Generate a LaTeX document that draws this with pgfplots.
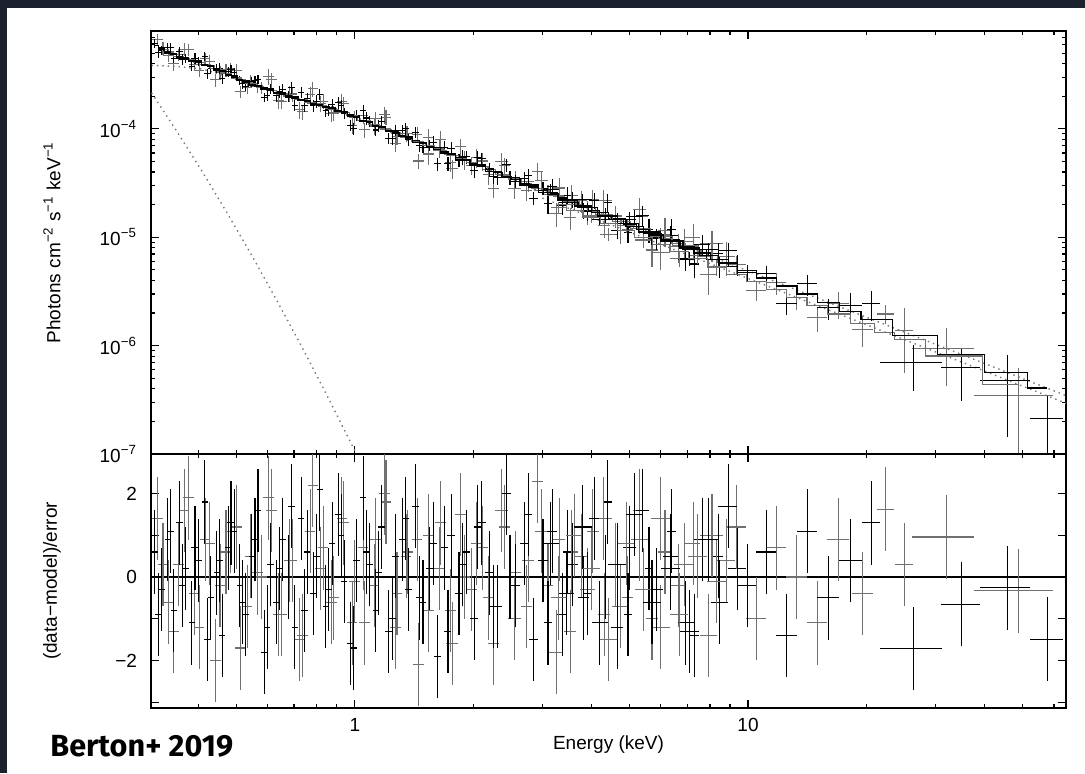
\documentclass[border=0pt]{standalone}
\usepackage{pgfplots}
\pgfplotsset{compat=1.18}
\usepackage{pgfplotstable}
\usepackage{fontspec}
\setmainfont{Liberation Sans}
\newfontfamily\bertonfont{Fira Sans}
\definecolor{bgdark}{RGB}{27,34,46}
\definecolor{dgray}{RGB}{112,112,112}
\definecolor{dotgray}{RGB}{120,120,120}

% XMM pn (black)
\pgfplotstableread{
E dE F rel M r
0.310 0.006 6.18e-4 0.10 5.83e-4 0.6
0.322 0.006 5.30e-4 0.10 5.46e-4 -0.3
0.334 0.006 5.59e-4 0.10 5.13e-4 0.9
0.346 0.006 4.47e-4 0.10 4.86e-4 -0.8
0.358 0.0065 5.20e-4 0.10 4.60e-4 1.3
0.371 0.007 4.50e-4 0.10 4.41e-4 0.2
0.385 0.0075 3.78e-4 0.10 4.25e-4 -1.1
0.400 0.0075 4.23e-4 0.10 4.07e-4 0.4
0.415 0.0075 4.65e-4 0.10 3.94e-4 1.8
0.430 0.0075 3.61e-4 0.10 3.80e-4 -0.5
0.445 0.0075 3.61e-4 0.10 3.57e-4 0.1
0.460 0.008 2.89e-4 0.10 3.36e-4 -1.4
0.476 0.0085 3.38e-4 0.10 3.16e-4 0.7
0.493 0.0085 3.34e-4 0.10 3.01e-4 1.1
0.510 0.009 2.80e-4 0.10 2.86e-4 -0.2
0.528 0.0095 2.47e-4 0.10 2.71e-4 -0.9
0.547 0.010 2.71e-4 0.10 2.58e-4 0.5
0.567 0.0105 2.88e-4 0.10 2.48e-4 1.6
0.588 0.011 1.95e-4 0.10 2.38e-4 -1.8
0.610 0.011 2.35e-4 0.10 2.28e-4 0.3
0.632 0.0115 2.02e-4 0.12 2.18e-4 -0.6
0.655 0.012 2.32e-4 0.12 2.09e-4 0.9
0.679 0.0125 2.01e-4 0.12 2.01e-4 0.0
0.704 0.013 1.65e-4 0.12 1.93e-4 -1.2
0.730 0.0135 2.17e-4 0.12 1.86e-4 1.4
0.757 0.014 1.92e-4 0.12 1.79e-4 0.6
0.785 0.0145 1.64e-4 0.12 1.72e-4 -0.4
0.814 0.015 2.08e-4 0.12 1.66e-4 2.1
0.844 0.0155 1.47e-4 0.12 1.60e-4 -0.7
0.875 0.016 1.69e-4 0.12 1.54e-4 0.8
0.907 0.0165 1.75e-4 0.12 1.48e-4 1.5
0.940 0.0175 1.39e-4 0.12 1.41e-4 -0.1
0.975 0.0175 1.08e-4 0.12 1.34e-4 -1.6
1.01 0.02 1.33e-4 0.12 1.27e-4 0.4
1.05 0.02 1.47e-4 0.12 1.20e-4 1.9
1.09 0.02 1.18e-4 0.12 1.14e-4 0.3
1.13 0.02 9.76e-5 0.12 1.08e-4 -0.8
1.17 0.025 1.18e-4 0.12 1.03e-4 1.2
1.22 0.025 8.20e-5 0.12 9.71e-5 -1.3
1.27 0.025 9.73e-5 0.12 9.18e-5 0.5
1.32 0.025 9.63e-5 0.12 8.69e-5 0.9
1.37 0.03 7.94e-5 0.12 8.24e-5 -0.3
1.43 0.03 9.33e-5 0.12 7.75e-5 1.7
1.49 0.03 6.78e-5 0.12 7.31e-5 -0.6
1.55 0.035 7.09e-5 0.12 6.92e-5 0.2
1.62 0.035 4.76e-5 0.14 6.49e-5 -1.9
1.69 0.035 6.71e-5 0.14 6.11e-5 0.7
1.76 0.04 6.58e-5 0.14 5.77e-5 1.0
1.84 0.04 5.12e-5 0.14 5.42e-5 -0.4
1.92 0.045 5.53e-5 0.14 5.10e-5 0.6
2.01 0.045 4.11e-5 0.14 4.78e-5 -1.0
2.10 0.05 5.31e-5 0.14 4.49e-5 1.3
2.20 0.055 4.27e-5 0.14 4.21e-5 0.1
2.31 0.06 3.54e-5 0.14 3.93e-5 -0.7
2.43 0.065 4.67e-5 0.14 3.65e-5 2.0
2.56 0.07 3.30e-5 0.14 3.39e-5 -0.2
2.70 0.075 3.49e-5 0.14 3.14e-5 0.8
2.85 0.08 2.30e-5 0.14 2.91e-5 -1.5
3.01 0.085 2.84e-5 0.14 2.69e-5 0.4
3.18 0.09 2.96e-5 0.17 2.49e-5 1.1
3.37 0.10 1.95e-5 0.17 2.30e-5 -0.9
3.58 0.11 2.22e-5 0.17 2.11e-5 0.3
3.81 0.12 1.77e-5 0.17 1.93e-5 -0.5
4.06 0.13 2.18e-5 0.17 1.76e-5 1.4
4.34 0.14 1.60e-5 0.17 1.60e-5 0.0
4.65 0.16 1.15e-5 0.17 1.45e-5 -1.2
5.00 0.18 1.47e-5 0.17 1.31e-5 0.7
5.40 0.20 1.58e-5 0.22 1.17e-5 1.6
5.85 0.23 9.81e-6 0.22 1.05e-5 -0.3
6.35 0.27 1.04e-5 0.22 9.33e-6 0.5
6.95 0.32 6.22e-6 0.22 8.21e-6 -1.1
7.65 0.37 8.58e-6 0.22 7.16e-6 0.9
8.45 0.42 5.40e-6 0.22 6.22e-6 -0.6
9.40 0.50 5.59e-6 0.22 5.35e-6 0.2
}\pn

% second black XMM set
\pgfplotstableread{
E dE F rel M r
0.316 0.006 5.08e-4 0.11 5.64e-4 -0.9
0.340 0.006 5.59e-4 0.11 4.99e-4 1.1
0.364 0.007 4.41e-4 0.11 4.51e-4 -0.2
0.392 0.008 4.49e-4 0.11 4.17e-4 0.7
0.422 0.008 3.23e-4 0.11 3.87e-4 -1.5
0.452 0.009 3.62e-4 0.11 3.47e-4 0.4
0.484 0.010 3.53e-4 0.11 3.09e-4 1.3
0.519 0.010 2.60e-4 0.11 2.78e-4 -0.6
0.557 0.011 2.78e-4 0.11 2.53e-4 0.9
0.598 0.012 2.02e-4 0.11 2.33e-4 -1.2
0.643 0.013 2.20e-4 0.13 2.14e-4 0.2
0.691 0.014 2.41e-4 0.13 1.97e-4 1.7
0.743 0.015 1.64e-4 0.13 1.83e-4 -0.8
0.799 0.016 1.80e-4 0.13 1.69e-4 0.5
0.859 0.017 1.51e-4 0.13 1.57e-4 -0.3
0.923 0.018 1.64e-4 0.13 1.45e-4 1.0
0.990 0.020 1.01e-4 0.13 1.30e-4 -1.7
1.07 0.022 1.26e-4 0.13 1.17e-4 0.6
1.15 0.024 1.07e-4 0.13 1.055e-4 0.1
1.245 0.026 8.21e-5 0.13 9.44e-5 -1.0
1.345 0.028 1.00e-4 0.13 8.46e-5 1.4
1.46 0.030 7.04e-5 0.13 7.53e-5 -0.5
1.585 0.033 7.50e-5 0.15 6.70e-5 0.8
1.725 0.036 4.78e-5 0.15 5.94e-5 -1.3
1.88 0.040 5.50e-5 0.15 5.26e-5 0.3
2.05 0.044 5.49e-5 0.15 4.65e-5 1.2
2.25 0.050 3.64e-5 0.15 4.07e-5 -0.7
2.48 0.055 3.55e-5 0.15 3.55e-5 0.0
2.77 0.060 3.71e-5 0.15 3.03e-5 1.5
3.10 0.070 2.04e-5 0.19 2.58e-5 -1.1
3.47 0.080 2.45e-5 0.19 2.20e-5 0.6
3.90 0.090 1.73e-5 0.19 1.87e-5 -0.4
4.40 0.10 2.11e-5 0.19 1.57e-5 1.8
4.95 0.12 1.10e-5 0.19 1.33e-5 -0.9
5.60 0.14 1.18e-5 0.25 1.12e-5 0.2
6.40 0.17 1.18e-5 0.25 9.23e-6 1.1
7.30 0.20 5.67e-6 0.25 7.66e-6 -1.4
8.40 0.25 7.07e-6 0.25 6.28e-6 0.5
}\pnb

% XMM MOS1 (grey)
\pgfplotstableread{
E dE F rel M r
0.315 0.010 6.71e-4 0.13 5.68e-4 1.4
0.335 0.0105 4.72e-4 0.13 5.12e-4 -0.6
0.356 0.011 4.83e-4 0.13 4.65e-4 0.3
0.378 0.012 5.40e-4 0.13 4.33e-4 1.9
0.402 0.0125 3.43e-4 0.13 4.06e-4 -1.2
0.427 0.013 4.22e-4 0.13 3.82e-4 0.8
0.454 0.014 3.35e-4 0.13 3.44e-4 -0.2
0.482 0.015 3.57e-4 0.13 3.12e-4 1.1
0.512 0.016 2.21e-4 0.13 2.84e-4 -1.7
0.544 0.017 2.78e-4 0.13 2.61e-4 0.5
0.578 0.018 2.42e-4 0.13 2.42e-4 0.0
0.614 0.019 2.83e-4 0.16 2.25e-4 1.6
0.652 0.020 1.80e-4 0.16 2.10e-4 -0.9
0.693 0.021 2.10e-4 0.16 1.97e-4 0.4
0.736 0.022 1.44e-4 0.16 1.85e-4 -1.4
0.782 0.024 2.34e-4 0.16 1.73e-4 2.2
0.831 0.025 1.80e-4 0.16 1.62e-4 0.7
0.883 0.027 1.40e-4 0.16 1.52e-4 -0.5
0.938 0.029 1.70e-4 0.16 1.41e-4 1.3
0.997 0.031 1.27e-4 0.16 1.29e-4 -0.1
1.06 0.034 9.81e-5 0.16 1.19e-4 -1.1
1.13 0.035 1.24e-4 0.16 1.08e-4 0.9
1.20 0.038 1.28e-4 0.16 9.95e-5 1.8
1.28 0.040 8.50e-5 0.16 9.08e-5 -0.4
1.36 0.043 9.12e-5 0.16 8.32e-5 0.6
1.45 0.045 5.05e-5 0.16 7.60e-5 -2.1
1.54 0.048 8.31e-5 0.19 6.98e-5 1.0
1.64 0.053 6.62e-5 0.19 6.38e-5 0.2
1.75 0.055 4.94e-5 0.19 5.82e-5 -0.8
1.86 0.058 6.85e-5 0.19 5.33e-5 1.5
1.98 0.063 4.61e-5 0.19 4.89e-5 -0.3
2.11 0.068 5.05e-5 0.19 4.46e-5 0.7
2.25 0.073 2.83e-5 0.19 4.07e-5 -1.6
2.40 0.078 4.57e-5 0.19 3.72e-5 1.2
2.56 0.083 3.45e-5 0.19 3.39e-5 0.1
2.73 0.088 2.69e-5 0.19 3.10e-5 -0.7
2.91 0.093 4.07e-5 0.19 2.83e-5 2.3
3.10 0.10 2.46e-5 0.23 2.58e-5 -0.2
3.31 0.11 2.85e-5 0.23 2.36e-5 0.9
3.53 0.12 1.51e-5 0.23 2.15e-5 -1.3
3.77 0.13 2.19e-5 0.23 1.96e-5 0.5
4.03 0.14 2.23e-5 0.23 1.78e-5 1.1
4.31 0.15 1.28e-5 0.23 1.62e-5 -0.9
4.61 0.16 1.57e-5 0.23 1.47e-5 0.3
4.94 0.17 1.18e-5 0.23 1.33e-5 -0.5
5.30 0.19 1.79e-5 0.30 1.21e-5 1.6
5.70 0.21 7.63e-6 0.30 1.09e-5 -1.0
6.15 0.24 1.15e-5 0.30 9.77e-6 0.6
6.65 0.27 8.23e-6 0.30 8.75e-6 -0.2
7.25 0.32 9.89e-6 0.35 7.73e-6 0.8
7.95 0.38 4.55e-6 0.35 6.78e-6 -1.4
8.80 0.45 6.69e-6 0.35 5.87e-6 0.4
}\mos

% XMM MOS2 (grey)
\pgfplotstableread{
E dE F rel M r
0.325 0.010 5.61e-4 0.14 5.38e-4 0.3
0.346 0.011 3.98e-4 0.14 4.86e-4 -1.3
0.368 0.011 5.45e-4 0.14 4.45e-4 1.6
0.391 0.012 3.95e-4 0.14 4.18e-4 -0.4
0.416 0.013 4.43e-4 0.14 3.93e-4 0.9
0.442 0.014 2.83e-4 0.14 3.62e-4 -2.0
0.470 0.015 3.51e-4 0.14 3.24e-4 0.6
0.500 0.016 3.45e-4 0.14 2.95e-4 1.2
0.532 0.017 2.42e-4 0.14 2.68e-4 -0.7
0.566 0.018 2.51e-4 0.14 2.48e-4 0.1
0.602 0.019 3.07e-4 0.17 2.32e-4 1.9
0.640 0.020 1.82e-4 0.17 2.15e-4 -0.9
0.681 0.021 2.14e-4 0.17 2.00e-4 0.4
0.724 0.022 1.50e-4 0.17 1.88e-4 -1.5
0.770 0.024 2.09e-4 0.17 1.76e-4 1.1
0.819 0.025 1.71e-4 0.17 1.65e-4 0.2
0.871 0.027 1.39e-4 0.17 1.55e-4 -0.6
0.926 0.028 1.78e-4 0.17 1.44e-4 1.4
0.985 0.030 1.07e-4 0.17 1.32e-4 -1.1
1.05 0.033 1.34e-4 0.17 1.20e-4 0.7
1.12 0.035 1.06e-4 0.17 1.095e-4 -0.2
1.19 0.037 1.35e-4 0.17 1.005e-4 2.0
1.27 0.040 7.31e-5 0.17 9.18e-5 -1.2
1.35 0.043 9.14e-5 0.17 8.42e-5 0.5
1.44 0.046 8.85e-5 0.17 7.68e-5 0.9
1.54 0.050 5.86e-5 0.20 6.98e-5 -0.8
1.65 0.055 7.98e-5 0.20 6.33e-5 1.3
1.77 0.060 4.34e-5 0.20 5.73e-5 -1.6
1.90 0.065 5.18e-5 0.20 5.18e-5 0.0
2.04 0.070 5.43e-5 0.20 4.68e-5 0.8
2.19 0.075 3.82e-5 0.20 4.24e-5 -0.5
2.36 0.085 5.03e-5 0.20 3.81e-5 1.6
2.55 0.095 2.84e-5 0.20 3.41e-5 -1.0
2.76 0.10 3.29e-5 0.20 3.05e-5 0.4
2.99 0.11 3.31e-5 0.20 2.71e-5 1.1
3.25 0.13 1.67e-5 0.25 2.42e-5 -1.8
3.55 0.15 2.45e-5 0.25 2.13e-5 0.6
3.90 0.17 1.73e-5 0.25 1.87e-5 -0.3
4.30 0.20 2.19e-5 0.25 1.62e-5 1.4
4.75 0.23 1.16e-5 0.25 1.41e-5 -0.7
5.30 0.27 1.56e-5 0.32 1.21e-5 0.9
6.00 0.32 7.30e-6 0.32 1.01e-5 -1.2
6.90 0.40 9.10e-6 0.32 8.30e-6 0.3
8.10 0.55 8.73e-6 0.32 6.61e-6 1.0
}\mosb

% NuSTAR FPMA (black)
\pgfplotstableread{
E dE F rel M r
3.15 0.15 2.76e-5 0.12 2.52e-5 0.8
3.45 0.15 2.11e-5 0.12 2.22e-5 -0.4
3.80 0.20 2.22e-5 0.12 1.94e-5 1.2
4.20 0.20 1.46e-5 0.12 1.68e-5 -1.1
4.65 0.25 1.50e-5 0.12 1.45e-5 0.3
5.15 0.25 1.54e-5 0.15 1.26e-5 1.5
5.70 0.30 9.92e-6 0.15 1.09e-5 -0.6
6.35 0.35 9.61e-6 0.15 9.33e-6 0.2
7.10 0.40 6.41e-6 0.15 7.96e-6 -1.3
7.95 0.45 7.70e-6 0.15 6.78e-6 0.9
8.90 0.50 7.55e-6 0.18 5.78e-6 1.7
9.95 0.55 4.75e-6 0.18 4.93e-6 -0.2
11.15 0.65 4.65e-6 0.18 4.20e-6 0.6
12.55 0.75 2.46e-6 0.22 3.55e-6 -1.4
14.15 0.85 3.71e-6 0.22 2.99e-6 1.1
16.00 1.00 2.23e-6 0.22 2.51e-6 -0.5
18.25 1.25 2.33e-6 0.30 2.08e-6 0.4
20.60 1.10 2.43e-6 0.30 1.75e-6 1.3
26.40 4.70 6.93e-7 0.45 1.23e-6 -1.72
35.00 4.00 6.23e-7 0.50 8.26e-7 -0.65
45.60 6.60 4.81e-7 0.70 5.68e-7 -0.26
57.75 5.55 2.14e-7 0.60 4.06e-7 -1.49
}\fpma

% NuSTAR FPMB (grey), lower cross-normalisation
\pgfplotstableread{
E dE F rel M r
3.30 0.15 1.89e-5 0.13 2.01e-5 -0.5
3.62 0.17 1.99e-5 0.13 1.76e-5 1.0
4.00 0.20 1.57e-5 0.13 1.53e-5 0.2
4.42 0.22 1.07e-5 0.13 1.33e-5 -1.5
4.90 0.26 1.28e-5 0.14 1.15e-5 0.8
5.42 0.26 9.44e-6 0.16 9.95e-6 -0.3
6.00 0.32 1.05e-5 0.16 8.59e-6 1.4
6.68 0.36 6.32e-6 0.16 7.39e-6 -0.9
7.45 0.41 6.85e-6 0.17 6.32e-6 0.5
8.33 0.47 5.30e-6 0.18 5.40e-6 -0.1
9.35 0.55 5.62e-6 0.19 4.57e-6 1.2
10.5 0.60 3.24e-6 0.20 3.88e-6 -1.0
11.8 0.70 3.80e-6 0.22 3.29e-6 0.7
13.3 0.80 2.78e-6 0.24 2.78e-6 0.0
15.0 0.90 1.82e-6 0.26 2.34e-6 -1.1
17.0 1.10 2.46e-6 0.28 1.96e-6 0.9
19.6 1.20 1.42e-6 0.32 1.60e-6 -0.4
22.4 1.15 1.96e-6 0.20 1.33e-6 1.63
24.95 1.35 1.39e-6 0.60 1.14e-6 0.3
31.9 5.70 9.35e-7 0.55 8.02e-7 0.96
48.7 11.1 3.49e-7 0.80 4.40e-7 -0.33
}\fpmb

% soft component (dotted)
\pgfplotstableread{
E F
0.304 2.15e-4
0.352 9.56e-5
0.408 4.10e-5
0.472 1.70e-5
0.547 6.79e-6
0.633 2.61e-6
0.733 9.75e-7
0.849 3.49e-7
0.983 1.21e-7
1.01 1.00e-7
}\soft

% power-law component (dotted)
\pgfplotstableread{
E F
0.304 3.85e-4
0.352 3.77e-4
0.408 3.57e-4
0.472 3.07e-4
0.547 2.53e-4
0.633 2.17e-4
0.733 1.86e-4
0.85 1.58e-4
1.0 1.29e-4
2.0 4.82e-5
5.0 1.31e-5
10 4.90e-6
20 1.83e-6
40 6.84e-7
64.4 3.46e-7
}\plaw

\pgfplotstableread{
E F
3.0 2.30e-5
10 4.17e-6
20 1.56e-6
40 5.81e-7
64.4 2.94e-7
}\plawb

\begin{document}
\begin{tikzpicture}[x=1pt,y=1pt]
\useasboundingbox (0,0) rectangle (542.5,386.5);
\fill[bgdark] (0,0) rectangle (542.5,386.5);
\fill[white] (3.5,0) rectangle (542.5,382.5);

\begin{axis}[
  xmode=log, ymode=log, scale only axis, width=457.5pt, height=211.5pt,
  at={(75.5pt,159.5pt)}, anchor=south west,
  xmin=0.303, xmax=64.4, ymin=1e-7, ymax=8e-4,
  axis line style={line width=0.85pt},
  tick align=inside, major tick length=3.8pt, minor tick length=2pt,
  every tick/.style={black, line width=0.6pt},
  xtick={1,10},
  minor xtick={0.4,0.5,0.6,0.7,0.8,0.9,2,3,4,5,6,7,8,9,20,30,40,50,60},
  xticklabels={},
  ytick={1e-7,1e-6,1e-5,1e-4},
  yticklabels={10\textsuperscript{−7},10\textsuperscript{−6},10\textsuperscript{−5},10\textsuperscript{−4}},
  minor ytick={2e-7,3e-7,4e-7,5e-7,6e-7,7e-7,8e-7,9e-7,2e-6,3e-6,4e-6,5e-6,6e-6,7e-6,8e-6,9e-6,2e-5,3e-5,4e-5,5e-5,6e-5,7e-5,8e-5,9e-5,2e-4,3e-4,4e-4,5e-4,6e-4,7e-4},
  tick label style={font=\fontsize{9.5}{11}\selectfont},
  yticklabel style={xshift=-3.5pt},
  ylabel={Photons cm\textsuperscript{−2} s\textsuperscript{−1} keV\textsuperscript{−1}},
  ylabel style={at={(axis description cs:-0.1082,0.5)}, anchor=center, font=\fontsize{9.5}{11}\selectfont},
]
\addplot[dotgray, dotted, line width=0.7pt] table[x=E,y=F] {\soft};
\addplot[dotgray, dotted, line width=0.7pt] table[x=E,y=F] {\plaw};
\addplot[dotgray, dotted, line width=0.7pt] table[x=E,y=F] {\plawb};
\addplot[draw=none, mark=none, error bars/.cd, x dir=both, x explicit, y dir=both, y explicit relative, error mark=none, error bar style={line width=0.55pt, draw=dgray}] table[x=E,y=F,x error=dE,y error=rel] {\mos};
\addplot[draw=none, mark=none, error bars/.cd, x dir=both, x explicit, y dir=both, y explicit relative, error mark=none, error bar style={line width=0.55pt, draw=dgray}] table[x=E,y=F,x error=dE,y error=rel] {\mosb};
\addplot[draw=none, mark=none, error bars/.cd, x dir=both, x explicit, y dir=both, y explicit relative, error mark=none, error bar style={line width=0.55pt, draw=black}] table[x=E,y=F,x error=dE,y error=rel] {\pn};
\addplot[draw=none, mark=none, error bars/.cd, x dir=both, x explicit, y dir=both, y explicit relative, error mark=none, error bar style={line width=0.55pt, draw=black}] table[x=E,y=F,x error=dE,y error=rel] {\pnb};
\addplot[draw=none, mark=none, error bars/.cd, x dir=both, x explicit, y dir=both, y explicit relative, error mark=none, error bar style={line width=0.55pt, draw=dgray}] table[x=E,y=F,x error=dE,y error=rel] {\fpmb};
\addplot[draw=none, mark=none, error bars/.cd, x dir=both, x explicit, y dir=both, y explicit relative, error mark=none, error bar style={line width=0.55pt, draw=black}] table[x=E,y=F,x error=dE,y error=rel] {\fpma};
\addplot[dgray, const plot mark mid, line width=0.55pt] table[x=E,y=M] {\mos};
\addplot[dgray, const plot mark mid, line width=0.55pt] table[x=E,y=M] {\mosb};
\addplot[black, const plot mark mid, line width=0.6pt] table[x=E,y=M] {\pn};
\addplot[black, const plot mark mid, line width=0.6pt] table[x=E,y=M] {\pnb};
\addplot[dgray, const plot mark mid, line width=0.55pt] table[x=E,y=M] {\fpmb};
\addplot[black, const plot mark mid, line width=0.6pt] table[x=E,y=M] {\fpma};
\end{axis}

\begin{axis}[
  xmode=log, scale only axis, width=457.5pt, height=127pt,
  at={(75.5pt,32.5pt)}, anchor=south west,
  xmin=0.303, xmax=64.4, ymin=-3.14, ymax=2.95,
  axis line style={line width=0.85pt},
  tick align=inside, major tick length=3.8pt, minor tick length=2pt,
  every tick/.style={black, line width=0.6pt},
  xtick={1,10},
  minor xtick={0.4,0.5,0.6,0.7,0.8,0.9,2,3,4,5,6,7,8,9,20,30,40,50,60},
  xticklabels={1,10},
  ytick={-3,-2,-1,0,1,2},
  yticklabels={,−2,,0,,2},
  tick label style={font=\fontsize{9.5}{11}\selectfont},
  yticklabel style={xshift=-3.5pt},
  xticklabel style={yshift=-1.5pt},
  ylabel={(data−model)/error},
  ylabel style={at={(axis description cs:-0.1082,0.5)}, anchor=center, font=\fontsize{9.5}{11}\selectfont},
  xlabel={Energy (keV)},
  xlabel style={at={(axis description cs:0.5,-0.1457)}, anchor=center, font=\fontsize{9.5}{11}\selectfont},
]
\addplot[black, line width=0.55pt] coordinates {(0.303,0) (64.4,0)};
\addplot[draw=none, mark=none, error bars/.cd, x dir=both, x explicit, y dir=both, y fixed=1, error mark=none, error bar style={line width=0.55pt, draw=dgray}] table[x=E,y=r,x error=dE] {\mos};
\addplot[draw=none, mark=none, error bars/.cd, x dir=both, x explicit, y dir=both, y fixed=1, error mark=none, error bar style={line width=0.55pt, draw=dgray}] table[x=E,y=r,x error=dE] {\mosb};
\addplot[draw=none, mark=none, error bars/.cd, x dir=both, x explicit, y dir=both, y fixed=1, error mark=none, error bar style={line width=0.55pt, draw=black}] table[x=E,y=r,x error=dE] {\pn};
\addplot[draw=none, mark=none, error bars/.cd, x dir=both, x explicit, y dir=both, y fixed=1, error mark=none, error bar style={line width=0.55pt, draw=black}] table[x=E,y=r,x error=dE] {\pnb};
\addplot[draw=none, mark=none, error bars/.cd, x dir=both, x explicit, y dir=both, y fixed=1, error mark=none, error bar style={line width=0.55pt, draw=dgray}] table[x=E,y=r,x error=dE] {\fpmb};
\addplot[draw=none, mark=none, error bars/.cd, x dir=both, x explicit, y dir=both, y fixed=1, error mark=none, error bar style={line width=0.55pt, draw=black}] table[x=E,y=r,x error=dE] {\fpma};
\end{axis}

\node[anchor=base west, font=\bertonfont\bfseries\fontsize{15.3}{18}\selectfont, text=black, inner sep=0pt] at (25,8.5) {Berton+ 2019};
\end{tikzpicture}
\end{document}
